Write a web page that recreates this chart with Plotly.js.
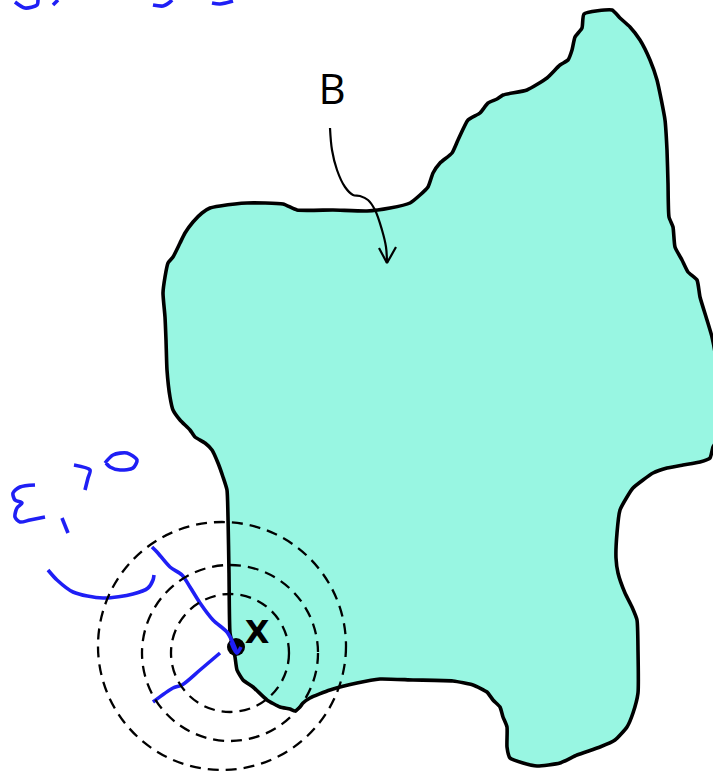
<!DOCTYPE html>
<html>
<head>
<meta charset="utf-8">
<script src="https://cdn.plot.ly/plotly-3.0.1.min.js"></script>
<style>html,body{margin:0;padding:0;background:#fff;}#chart{width:713px;height:777px;}</style>
</head>
<body>
<div id="chart"></div>
<script>
// Region B outline (clockwise from top-left corner of the peak)
const outlineX = [584,612,620,630,640,650,657,665,667,668,669,673,675,682,688,697,700,707,712,716,718,717,713,710,700,683,667,653,643,633,627,620,617,616,618,625,632,637,638,638,633,627,615,600,577,560,537,523,510,507,507,503,500,493,487,473,453,413,380,357,330,310,303,300,295,290,280,267,253,243,237,235,233,230,229,228,227,223,218,212,205,195,190,180,173,170,167,166,165,163,165,168,173,180,185,193,202,210,220,247,283,297,333,367,390,410,420,428,433,440,452,458,468,480,488,497,503,527,547,560,568,572,575,582,584];
const outlineY = [14,10,18,27,40,60,80,120,150,183,217,227,247,260,272,280,297,320,337,360,400,440,447,458,462,465,468,473,480,488,497,510,533,558,573,593,607,620,650,693,713,727,740,747,755,763,766,763,758,747,727,717,707,700,692,685,681,680,679,683,690,698,703,707,711,709,707,700,687,680,670,657,647,633,573,517,490,477,463,450,443,437,430,420,410,397,370,340,317,293,277,263,257,243,233,222,213,208,206,203,204,210,210,211,208,203,195,187,173,163,153,140,120,113,103,99,95,90,78,65,60,50,37,28,14];

// Dashed neighbourhood circles around x
const circleCx = [222, 230, 230];
const circleCy = [646, 653, 653];
const circleR  = [124, 88, 59];

// Point x
const pointX = [236];
const pointY = [647];

// Labels
const labelText = ["B", "X"];
const labelX = [332, 257];
const labelY = [93, 635];

// Arrow from B into the region
const arrowX = [330,332,337,345,353,360,368,375,382,386,387];
const arrowY = [128,150,170,187,195,196,200,210,230,247,263];
const arrowHeadX = [379,387,396];
const arrowHeadY = [248,263,247];

// Blue hand-written strokes
const strokes = [
  {x:[152,157,170,182,190,200,213,227,233,237], y:[547,552,567,575,587,603,620,632,643,653]},
  {x:[231,234,237,241], y:[642,649,653,647]},
  {x:[220,200,182,173,153], y:[653,670,685,688,702]},
  {x:[48,57,73,103,133,148,153,154], y:[570,580,592,598,594,588,580,575]},
  {x:[35,20,13,15,22,17,15,20,30,45], y:[485,487,493,500,503,508,517,522,520,517]},
  {x:[62,68], y:[518,533]},
  {x:[74,90,88,85], y:[465,470,478,490]},
  {x:[105,113,127,137,133,120,110,106], y:[463,455,453,460,468,470,467,463]},
  {x:[15,25,37,38], y:[2,8,5,0]},
  {x:[53,58], y:[5,0]},
  {x:[153,163,170,172], y:[5,6,2,0]},
  {x:[212,220,233], y:[3,4,1]}
];

const blue = '#1f1ff5';
const traces = [];
traces.push({x: outlineX, y: outlineY, mode: 'lines', fill: 'toself', fillcolor: '#98f6e2',
  line: {color: '#000', width: 3.6, shape: 'spline', smoothing: 0.5}, hoverinfo: 'skip'});
traces.push({x: arrowX, y: arrowY, mode: 'lines', line: {color: '#000', width: 2.2, shape: 'spline'}, hoverinfo: 'skip'});
traces.push({x: arrowHeadX, y: arrowHeadY, mode: 'lines', line: {color: '#000', width: 2.2}, hoverinfo: 'skip'});
traces.push({x: pointX, y: pointY, mode: 'markers', marker: {color: '#000', size: 18}, hoverinfo: 'skip'});
strokes.forEach(s => traces.push({x: s.x, y: s.y, mode: 'lines',
  line: {color: blue, width: 3.6, shape: 'spline', smoothing: 0.8}, hoverinfo: 'skip'}));
traces.push({x: labelX, y: labelY, mode: 'text', text: labelText, textposition: 'middle center',
  textfont: {family: ['Open Sans', 'DejaVu Sans'], size: [42, 32], color: '#000', weight: [400, 700]}, hoverinfo: 'skip'});

const shapes = circleCx.map((cx, i) => ({type: 'circle', xref: 'x', yref: 'y',
  x0: cx - circleR[i], x1: cx + circleR[i], y0: circleCy[i] - circleR[i], y1: circleCy[i] + circleR[i],
  line: {color: '#000', width: 2.3, dash: '11px,7px'}, layer: 'above'}));

const layout = {
  width: 713, height: 777, margin: {l: 0, r: 0, t: 0, b: 0},
  paper_bgcolor: '#fff', plot_bgcolor: '#fff', showlegend: false,
  xaxis: {range: [0, 713], visible: false, fixedrange: true},
  yaxis: {range: [777, 0], visible: false, fixedrange: true},
  shapes: shapes
};
Plotly.newPlot('chart', traces, layout, {displayModeBar: false, staticPlot: true});
</script>
</body>
</html>
